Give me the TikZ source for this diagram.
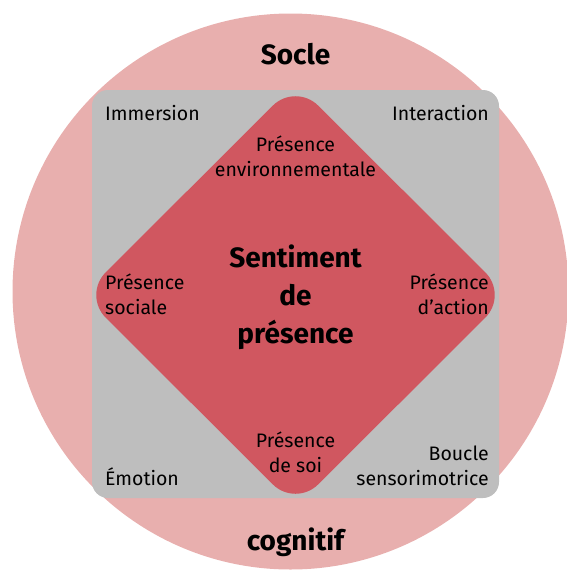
\documentclass[tikz,border=0pt]{standalone}
\usepackage{fontspec}
\setmainfont{Fira Sans}
\usepackage{tikz}
\usetikzlibrary{positioning}
\usepackage{xcolor}
\definecolor{socle}{RGB}{232,175,174}
\definecolor{cadre}{RGB}{190,190,190}
\definecolor{coeur}{RGB}{208,87,96}

\begin{document}
\begin{tikzpicture}[x=1pt, y=-1pt,
  lbl/.style={inner sep=0pt, font=\fontsize{19.5}{25}\selectfont},
  lbll/.style={lbl, align=left, anchor=base west},
  lblr/.style={lbl, align=right, anchor=base east},
  lblc/.style={lbl, align=center, anchor=base},
  titre/.style={inner sep=0pt, anchor=base, align=center,
                font=\fontsize{28}{38}\selectfont\bfseries}]
\useasboundingbox (0,0) rectangle (567,571);
% fond
\fill[socle] (290.5,291.5) circle (278);
\fill[cadre, rounded corners=16pt] (92,90) rectangle (499,498);
\fill[coeur, rounded corners=32pt] (295.5,83) -- (508,295) -- (295.5,507) -- (83,295) -- cycle;
% textes (ancre = ligne de base de la derniere ligne)
\node[titre] (socle) at (295.5,64) {Socle};
\node[titre] (cogn) at (295.5,550) {cognitif};
\node[titre] (sent) at (295.5,343) {Sentiment\\de\\présence};
\node[lbll] (imm) at (105,120) {Immersion};
\node[lblr] (inter) at (489,120) {Interaction};
\node[lbll] (emo) at (105,485) {Émotion};
\node[lblr] (boucle) at (489,485) {Boucle\\sensorimotrice};
\node[lblc] (penv) at (295.5,176) {Présence\\environnementale};
\node[lbll] (psoc) at (105,314) {Présence\\sociale};
\node[lblr] (pact) at (489,314) {Présence\\d’action};
\node[lblc] (psoi) at (295.5,472) {Présence\\de soi};
\end{tikzpicture}
\end{document}
